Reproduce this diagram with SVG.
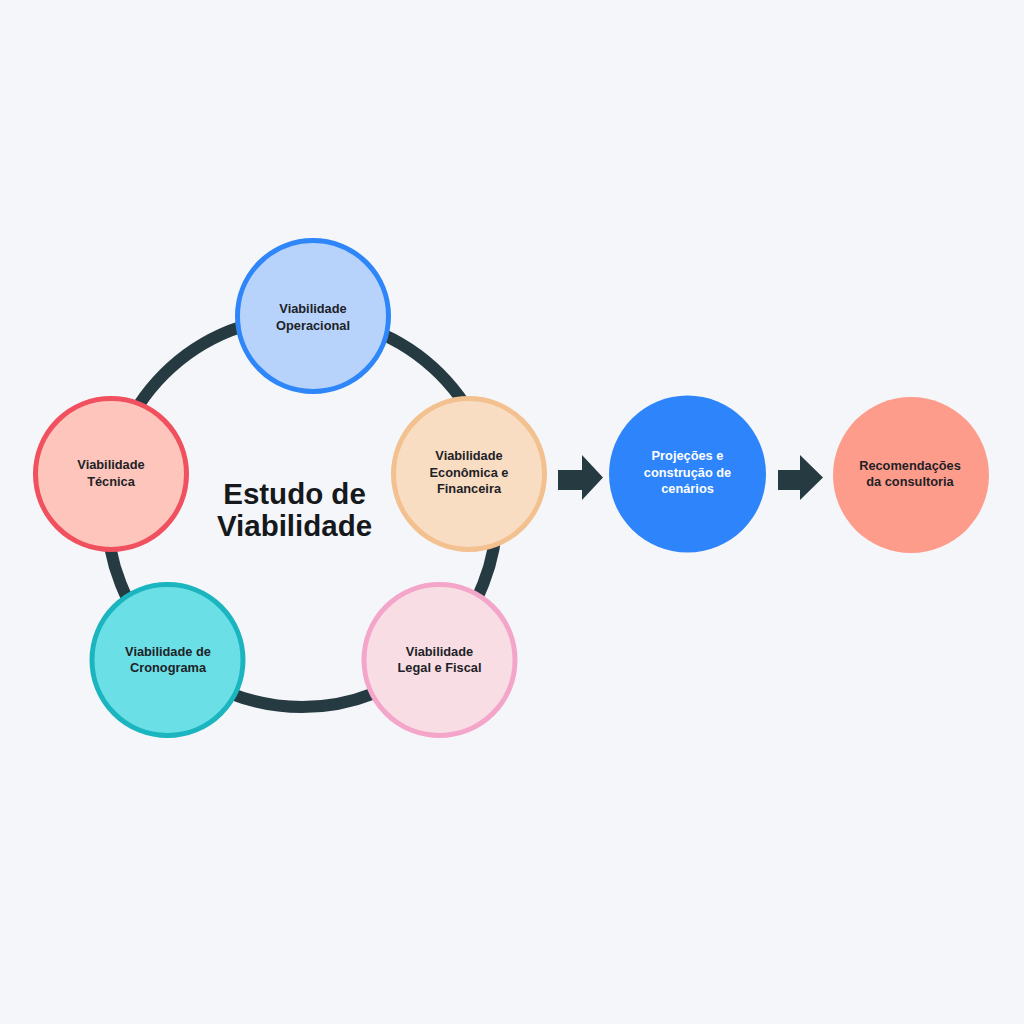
<svg xmlns="http://www.w3.org/2000/svg" width="1024" height="1024" viewBox="0 0 1024 1024">
  <defs>
    <style>
      .lbl { font-family: "Liberation Sans", Arial, sans-serif; font-weight: bold; font-size: 12.8px; fill: #1E2226; text-anchor: middle; dominant-baseline: central; }
      .lbl-w { fill: #FFFFFF; }
      .title { font-family: "Liberation Sans", Arial, sans-serif; font-weight: bold; font-size: 29.5px; fill: #15191C; text-anchor: middle; dominant-baseline: central; }
      .node { stroke-width: 5; }
      .arrow { fill: #263A42; }
    </style>
  </defs>
  <rect width="1024" height="1024" fill="#F5F6F9"/>

  <g id="connectors">
    <circle id="ring" cx="302" cy="512" r="195" fill="none" stroke="#263A42" stroke-width="12"/>
    <polygon class="arrow" points="558,470 582,470 582,455 603,477.5 582,500 582,490 558,490"/>
    <polygon class="arrow" points="778,470 800,470 800,455 823,477.5 800,500 800,490 778,490"/>
  </g>

  <text class="title" id="title"><tspan x="294.5" y="493">Estudo de</tspan><tspan x="294.5" y="525">Viabilidade</tspan></text>

  <g id="node-operacional">
    <circle class="node" cx="313" cy="316" r="75.5" fill="#B7D3FC" stroke="#2E86F9"/>
    <text class="lbl"><tspan x="313" y="308">Viabilidade</tspan><tspan x="313" y="324.5">Operacional</tspan></text>
  </g>

  <g id="node-tecnica">
    <circle class="node" cx="111" cy="474" r="75.5" fill="#FDC5BB" stroke="#F1505E"/>
    <text class="lbl"><tspan x="111" y="464">Viabilidade</tspan><tspan x="111" y="480.5">Técnica</tspan></text>
  </g>

  <g id="node-economica">
    <circle class="node" cx="469" cy="474" r="75.5" fill="#F9DDC3" stroke="#F3C08F"/>
    <text class="lbl"><tspan x="469" y="455">Viabilidade</tspan><tspan x="469" y="471.7">Econômica e</tspan><tspan x="469" y="488.3">Financeira</tspan></text>
  </g>

  <g id="node-cronograma">
    <circle class="node" cx="167.5" cy="660" r="75.5" fill="#6BDFE6" stroke="#1BB5BF"/>
    <text class="lbl"><tspan x="168" y="650.7">Viabilidade de</tspan><tspan x="168" y="667.3">Cronograma</tspan></text>
  </g>

  <g id="node-legal">
    <circle class="node" cx="439.5" cy="660" r="75.5" fill="#F8DDE4" stroke="#F3A6C9"/>
    <text class="lbl"><tspan x="439.5" y="650.7">Viabilidade</tspan><tspan x="439.5" y="667.3">Legal e Fiscal</tspan></text>
  </g>

  <g id="node-projecoes">
    <circle cx="687.5" cy="474" r="78.5" fill="#2D84FB"/>
    <text class="lbl lbl-w"><tspan x="687.5" y="455">Projeções e</tspan><tspan x="687.5" y="471.7">construção de</tspan><tspan x="687.5" y="488.3">cenários</tspan></text>
  </g>

  <g id="node-recomendacoes">
    <circle cx="911" cy="475" r="78" fill="#FE9C8B"/>
    <text class="lbl"><tspan x="910" y="465">Recomendações</tspan><tspan x="910" y="480.7">da consultoria</tspan></text>
  </g>
</svg>
